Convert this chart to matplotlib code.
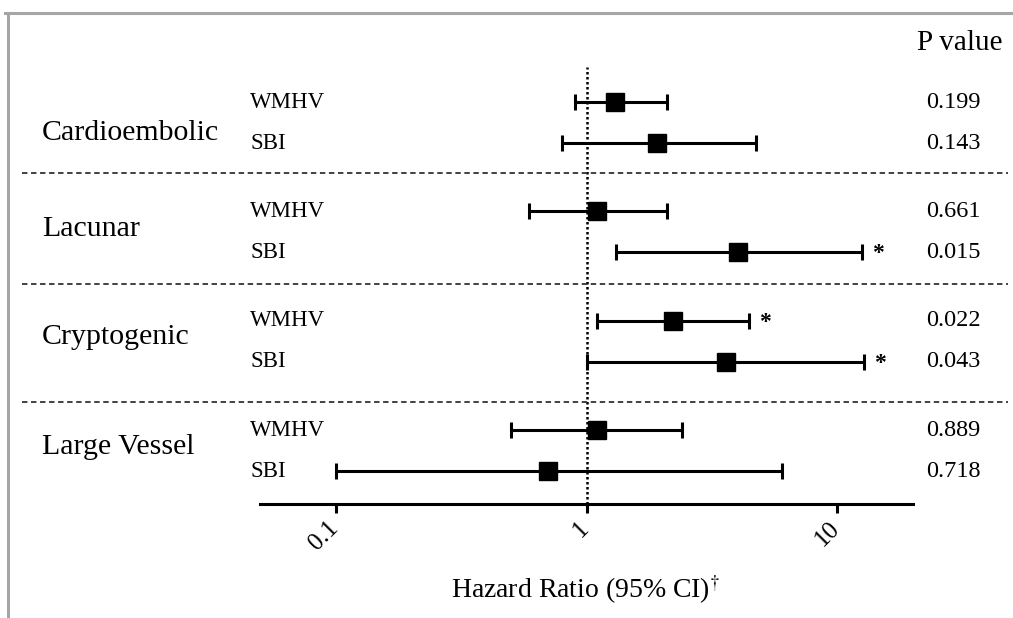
import numpy as np
import matplotlib.pyplot as plt
from matplotlib.lines import Line2D
from matplotlib.transforms import blended_transform_factory, ScaledTranslation

plt.rcParams['font.family'] = ['Liberation Serif', 'DejaVu Serif']
plt.rcParams['mathtext.fontset'] = 'stix'

# data
groups = ["Cardioembolic", "Lacunar", "Cryptogenic", "Large Vessel"]
measures = ["WMHV", "SBI"]
hr = np.array([1.30, 1.91, 1.10, 4.02, 2.21, 3.61, 1.10, 0.70])
ci_lo = np.array([0.90, 0.80, 0.59, 1.31, 1.10, 1.00, 0.50, 0.10])
ci_hi = np.array([2.10, 4.75, 2.10, 12.5, 4.43, 12.8, 2.41, 6.02])
p_vals = ["0.199", "0.143", "0.661", "0.015", "0.022", "0.043", "0.889", "0.718"]
signif = [False, False, False, True, True, True, False, False]

# row layout: 2 rows per group
group_step = 2.67
ys = np.array([g * group_step + s for g in range(len(groups)) for s in range(len(measures))])
sep_y = [1.73, 4.44, 7.32]
label_off = [0.76, 0.42, 0.38, 0.40]

W, H = 1013, 618
fig = plt.figure(figsize=(W / 100, H / 100), dpi=100)
ax = fig.add_axes([260 / W, 114 / H, 653 / W, 437 / H])

ax.axvline(1, color='black', ls=(0, (1, 1)), lw=1.8, zorder=1)
ax.errorbar(hr, ys, xerr=[hr - ci_lo, ci_hi - hr], fmt='s', color='black',
            ms=13, elinewidth=2.2, capsize=5.8, capthick=2.2, zorder=3)

for x, y, s in zip(ci_hi, ys, signif):
    if s:
        ax.annotate('*', xy=(x, y), xytext=(11.5, -1), textcoords='offset points',
                    ha='center', va='center', fontsize=17, fontweight='bold')

ax.set_xscale('log')
ax.set_xlim(0.05, 20)
ax.set_ylim(9.805, -0.854)
ax.set_xticks([0.1, 1, 10])
ax.set_xticklabels(['0.1', '1', '10'], rotation=45, ha='right')
ax.minorticks_off()
ax.set_yticks([])
ax.tick_params(axis='x', length=6.5, width=2.2, labelsize=18, pad=3)
for lab in ax.get_xticklabels():
    lab.set_transform(lab.get_transform() + ScaledTranslation(0.07, 0, fig.dpi_scale_trans))
for side in ['left', 'top', 'right']:
    ax.spines[side].set_visible(False)
ax.spines['bottom'].set_linewidth(2.2)

tr = blended_transform_factory(fig.transFigure, ax.transData)

# separators
for y in sep_y:
    fig.add_artist(Line2D([22 / W, 1008 / W], [y, y], transform=tr, color='#333333',
                          lw=1.3, ls=(0, (3, 2))))

# labels
for g, name in enumerate(groups):
    ax.text(42 / W, g * group_step + label_off[g], name, transform=tr, fontsize=21.5,
            ha='left', va='center')
for i, y in enumerate(ys):
    ax.text(250 / W, y, measures[i % 2], transform=tr, fontsize=16.5,
            ha='left', va='center')
    ax.text(953 / W, y, p_vals[i], transform=tr, fontsize=17.5,
            ha='center', va='center')

fig.text(960 / W, 1 - 43 / H, "P value", fontsize=21, ha='center', va='center')
fig.text(586 / W, 1 - 590 / H, r"Hazard Ratio (95% CI)$^{\dagger}$", fontsize=20,
         ha='center', va='center')

# gray frame
fig.add_artist(Line2D([5 / W, 1], [1 - 13 / H, 1 - 13 / H], color='#a6a6a6', lw=2.2))
fig.add_artist(Line2D([8 / W, 8 / W], [0, 1 - 13 / H], color='#a6a6a6', lw=2.2))

fig.savefig('out.png', dpi=100)
